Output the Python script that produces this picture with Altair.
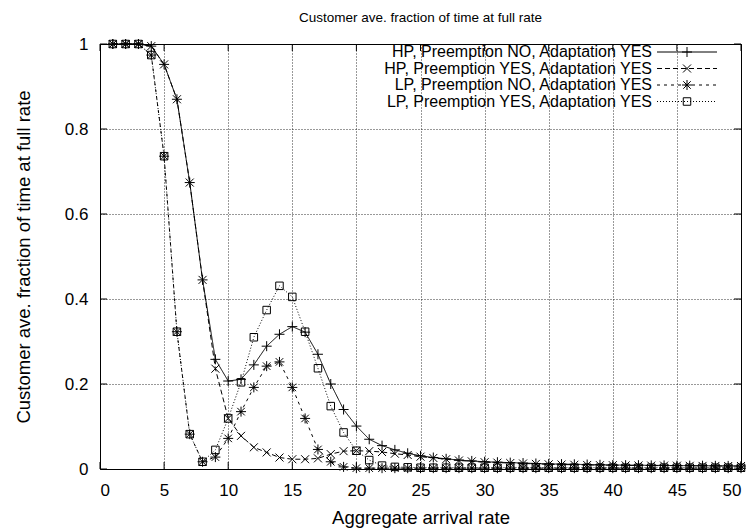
import altair as alt
import pandas as pd

FONT = "Liberation Sans"

x_vals = list(range(1, 51))

series_names = [
    "HP, Preemption NO, Adaptation YES",
    "HP, Preemption YES, Adaptation YES",
    "LP, Preemption NO, Adaptation YES",
    "LP, Preemption YES, Adaptation YES",
]

chart_title = "Customer ave. fraction of time at full rate"

hp_no = [1.0, 1.0, 1.0, 0.995, 0.952, 0.87, 0.674, 0.445, 0.258, 0.207,
         0.211, 0.245, 0.289, 0.317, 0.335, 0.322, 0.27, 0.2, 0.14, 0.101,
         0.07, 0.055, 0.045, 0.037, 0.031, 0.027, 0.024, 0.021, 0.019, 0.017,
         0.016, 0.015, 0.014, 0.013, 0.012, 0.0115, 0.011, 0.0105, 0.01, 0.0095,
         0.009, 0.009, 0.0085, 0.0085, 0.008, 0.008, 0.0078, 0.0075, 0.0073, 0.007]

hp_yes = [1.0, 1.0, 1.0, 0.995, 0.952, 0.87, 0.674, 0.445, 0.236, 0.119,
          0.078, 0.051, 0.039, 0.027, 0.023, 0.023, 0.025, 0.035, 0.042, 0.043,
          0.042, 0.04, 0.036, 0.033, 0.029, 0.026, 0.023, 0.02, 0.018, 0.016,
          0.015, 0.014, 0.013, 0.012, 0.011, 0.0105, 0.01, 0.0095, 0.009, 0.009,
          0.0085, 0.0083, 0.008, 0.008, 0.0078, 0.0075, 0.0073, 0.0072, 0.007, 0.007]

lp_no = [1.0, 1.0, 1.0, 0.974, 0.736, 0.323, 0.082, 0.017, 0.028, 0.072,
         0.135, 0.192, 0.242, 0.252, 0.192, 0.119, 0.046, 0.017, 0.005, 0.002,
         0.002, 0.002, 0.002, 0.002, 0.002, 0.002, 0.002, 0.002, 0.002, 0.002,
         0.002, 0.002, 0.002, 0.002, 0.002, 0.002, 0.002, 0.002, 0.002, 0.002,
         0.002, 0.002, 0.002, 0.002, 0.002, 0.002, 0.002, 0.002, 0.002, 0.002]

lp_yes = [1.0, 1.0, 1.0, 0.974, 0.736, 0.323, 0.082, 0.017, 0.045, 0.119,
          0.204, 0.31, 0.374, 0.431, 0.405, 0.323, 0.237, 0.148, 0.086, 0.043,
          0.021, 0.008, 0.005, 0.004, 0.003, 0.003, 0.003, 0.003, 0.003, 0.003,
          0.003, 0.003, 0.003, 0.003, 0.003, 0.003, 0.003, 0.003, 0.003, 0.003,
          0.003, 0.003, 0.003, 0.003, 0.003, 0.003, 0.003, 0.003, 0.003, 0.003]

x_ticks = [0, 5, 10, 15, 20, 25, 30, 35, 40, 45, 50]
y_ticks = [0, 0.2, 0.4, 0.6, 0.8, 1.0]

all_series = [hp_no, hp_yes, lp_no, lp_yes]
rows = []
for name, vals in zip(series_names, all_series):
    for xv, yv in zip(x_vals, vals):
        rows.append({"series": name, "x": xv, "y": yv})
df = pd.DataFrame(rows)

W, H = 641, 425

dash_range = [[1, 0], [5, 3], [3, 4], [1, 2]]
plus = "M-1,0L1,0M0,-1L0,1"
cross = "M-0.8,-0.8L0.8,0.8M-0.8,0.8L0.8,-0.8"
star = "M-1,0L1,0M0,-1L0,1M-0.75,-0.75L0.75,0.75M-0.75,0.75L0.75,-0.75"
box = "M-0.75,-0.75L0.75,-0.75L0.75,0.75L-0.75,0.75Z"
shape_range = [plus, cross, star, box]

xscale = alt.Scale(domain=[0, 50], nice=False, zero=False)
yscale = alt.Scale(domain=[0, 1], nice=False)

base = alt.Chart(df)

lines = base.mark_line(color="black", strokeWidth=1).encode(
    x=alt.X("x:Q", scale=xscale,
            axis=alt.Axis(values=x_ticks, title="Aggregate arrival rate",
                          grid=True, ticks=False, tickSize=0, domain=False,
                          labelFontSize=17, labelPadding=26, labelBaseline="alphabetic",
                          titleFontSize=18.5, titleFontWeight="normal",
                          titleY=54, titleBaseline="alphabetic")),
    y=alt.Y("y:Q", scale=yscale,
            axis=alt.Axis(values=y_ticks, format="~g",
                          title="Customer ave. fraction of time at full rate",
                          grid=True, ticks=False, tickSize=0, domain=False,
                          labelFontSize=17, labelPadding=12,
                          titleFontSize=18.5, titleFontWeight="normal",
                          titleX=-77, titleY=H / 2, titleBaseline="middle")),
    strokeDash=alt.StrokeDash("series:N", scale=alt.Scale(domain=series_names, range=dash_range), legend=None),
    detail="series:N",
)

points = base.mark_point(filled=False, color="black", strokeWidth=1, size=100, opacity=1).encode(
    x="x:Q",
    y="y:Q",
    shape=alt.Shape("series:N", scale=alt.Scale(domain=series_names, range=shape_range), legend=None),
)

# inward tick marks on all four sides
xt = pd.DataFrame({"t": x_ticks})
yt = pd.DataFrame({"t": y_ticks})
TL = 7
tick_layers = [
    alt.Chart(xt).mark_rule(color="black", strokeWidth=1).encode(
        x="t:Q", y=alt.value(H), y2=alt.value(H - TL)),
    alt.Chart(xt).mark_rule(color="black", strokeWidth=1).encode(
        x="t:Q", y=alt.value(0), y2=alt.value(TL)),
    alt.Chart(yt).mark_rule(color="black", strokeWidth=1).encode(
        y="t:Q", x=alt.value(0), x2=alt.value(TL)),
    alt.Chart(yt).mark_rule(color="black", strokeWidth=1).encode(
        y="t:Q", x=alt.value(W), x2=alt.value(W - TL)),
]

# chart title as a text mark above the frame
title_layer = alt.Chart(pd.DataFrame({"t": [chart_title]})).mark_text(
    align="center", baseline="alphabetic", fontSize=13.5, font=FONT, color="black"
).encode(text="t:N", x=alt.value(W / 2), y=alt.value(-22))

# manual gnuplot-style legend (text left, sample right)
legend_layers = []
leg_text_x = 552
leg_line_x1, leg_line_x2 = 557, 617
leg_y0, leg_dy = 8, 16.5
for i, name in enumerate(series_names):
    ly = leg_y0 + i * leg_dy
    ldf = pd.DataFrame({"series": [name]})
    legend_layers.append(
        alt.Chart(ldf).mark_text(align="right", baseline="middle", fontSize=16,
                                 font=FONT, color="black").encode(
            text="series:N", x=alt.value(leg_text_x), y=alt.value(ly)))
    legend_layers.append(
        alt.Chart(ldf).mark_rule(color="black", strokeWidth=1,
                                 strokeDash=dash_range[i]).encode(
            x=alt.value(leg_line_x1), x2=alt.value(leg_line_x2), y=alt.value(ly)))
    legend_layers.append(
        alt.Chart(ldf).mark_point(filled=False, color="black", strokeWidth=1,
                                  size=100, opacity=1, shape=shape_range[i]).encode(
            x=alt.value((leg_line_x1 + leg_line_x2) / 2), y=alt.value(ly)))

chart = alt.layer(lines, points, *tick_layers, title_layer, *legend_layers).properties(
    width=W, height=H,
    padding={"left": 100, "top": 44, "right": 12, "bottom": 60},
    autosize=alt.AutoSizeParams(type="none"),
).configure(
    font=FONT,
    background="white",
).configure_view(
    stroke="black", strokeWidth=1,
).configure_axis(
    labelFont=FONT, titleFont=FONT, labelColor="black", titleColor="black",
    gridColor="black", gridDash=[1, 2], gridOpacity=0.8, gridWidth=1,
)

chart.save("out.html", embed_options={"renderer": "svg", "actions": False})
